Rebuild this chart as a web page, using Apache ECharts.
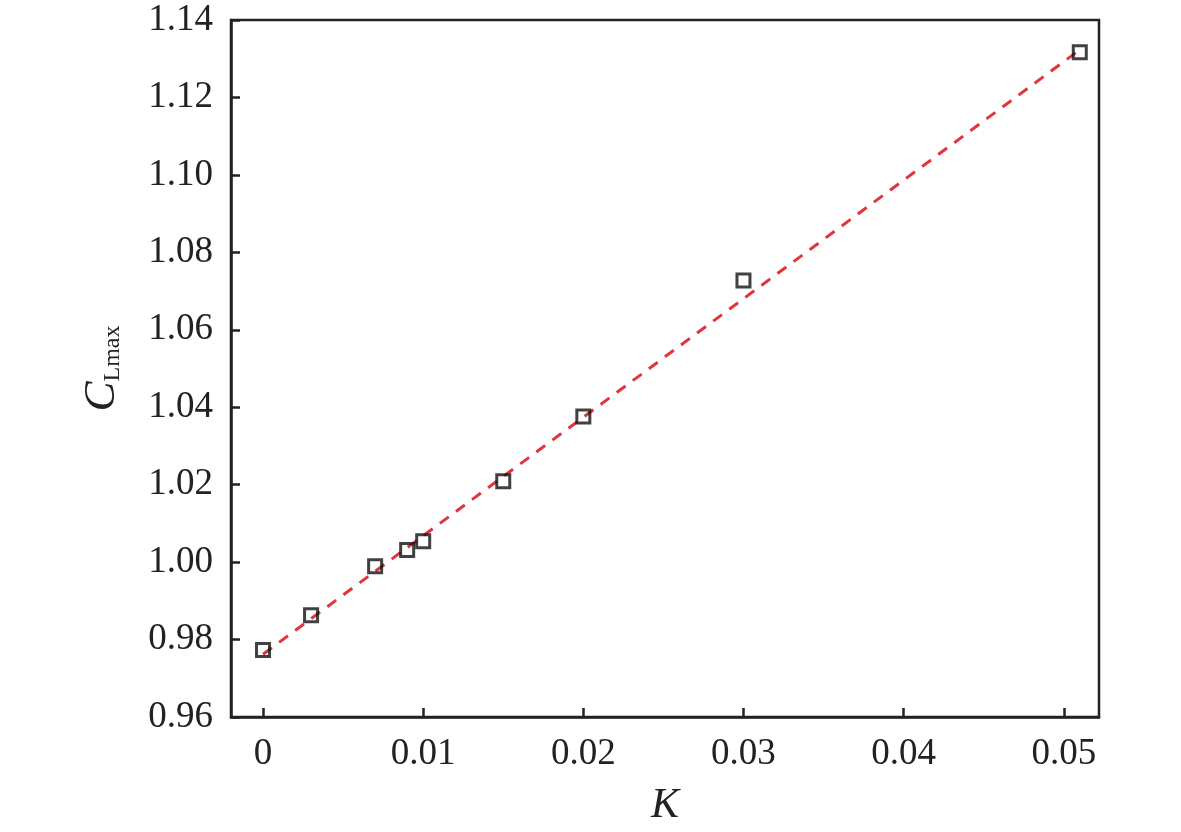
<!DOCTYPE html>
<html><head><meta charset="utf-8">
<script src="https://cdn.jsdelivr.net/npm/echarts@6/dist/echarts.min.js"></script>
<style>html,body{margin:0;padding:0;background:#fff}#c{width:1181px;height:832px}</style>
</head><body><div id="c"></div>
<script>
const kValues = [0, 0.003, 0.007, 0.009, 0.010, 0.015, 0.020, 0.030, 0.051];
const clmaxValues = [0.9773, 0.9863, 0.9989, 1.0031, 1.0054, 1.0209, 1.0376, 1.0727, 1.1317];
const fitK = [0, 0.051];
const fitC = [0.9762, 1.1323];
const xTicks = [0, 0.01, 0.02, 0.03, 0.04, 0.05];
const xTickLabels = ['0', '0.01', '0.02', '0.03', '0.04', '0.05'];

const font = 'Liberation Serif';
const chart = echarts.init(document.getElementById('c'));
chart.setOption({
  animation: false,
  grid: {left: 231, right: 82, top: 20, bottom: 114, show: true, borderColor: '#222', borderWidth: 2.5, backgroundColor: 'transparent'},
  xAxis: {
    type: 'value', min: -0.002, max: 0.0522,
    name: 'K', nameLocation: 'middle', nameGap: 68,
    nameTextStyle: {fontFamily: font, fontSize: 42, fontStyle: 'italic', color: '#222'},
    axisLine: {show: true, onZero: false, lineStyle: {color: '#222', width: 2.5}},
    axisTick: {show: true, inside: true, length: 9, lineStyle: {color: '#222', width: 2.5}, customValues: xTicks},
    axisLabel: {color: '#222', fontFamily: font, fontSize: 37, margin: 19, customValues: xTicks,
      formatter: v => { const i = xTicks.findIndex(t => Math.abs(t - v) < 1e-9); return i >= 0 ? xTickLabels[i] : ''; }},
    splitLine: {show: false}
  },
  yAxis: {
    type: 'value', min: 0.96, max: 1.14, interval: 0.02,
    name: '{c|C}{s|Lmax}', nameLocation: 'middle', nameGap: 106, nameRotate: 90,
    nameTextStyle: {rich: {
      c: {fontFamily: font, fontSize: 45, fontStyle: 'italic', color: '#222'},
      s: {fontFamily: font, fontSize: 24, color: '#222', verticalAlign: 'bottom', padding: [18, 0, 0, 0]}
    }},
    axisLine: {show: true, onZero: false, lineStyle: {color: '#222', width: 2.5}},
    axisTick: {show: true, inside: true, length: 9, lineStyle: {color: '#222', width: 2.5}},
    axisLabel: {color: '#222', fontFamily: font, fontSize: 37, margin: 18, formatter: v => v.toFixed(2)},
    splitLine: {show: false}
  },
  series: [
    {type: 'line', data: fitK.map((k, i) => [k, fitC[i]]), symbol: 'none', z: 2,
     lineStyle: {color: '#e0353a', width: 3, type: [11, 9]}},
    {type: 'scatter', data: kValues.map((k, i) => [k, clmaxValues[i]]), symbol: 'rect', symbolSize: 13, z: 3,
     itemStyle: {color: 'rgba(255,255,255,0)', borderColor: '#111', borderWidth: 3}}
  ]
});
</script></body></html>
